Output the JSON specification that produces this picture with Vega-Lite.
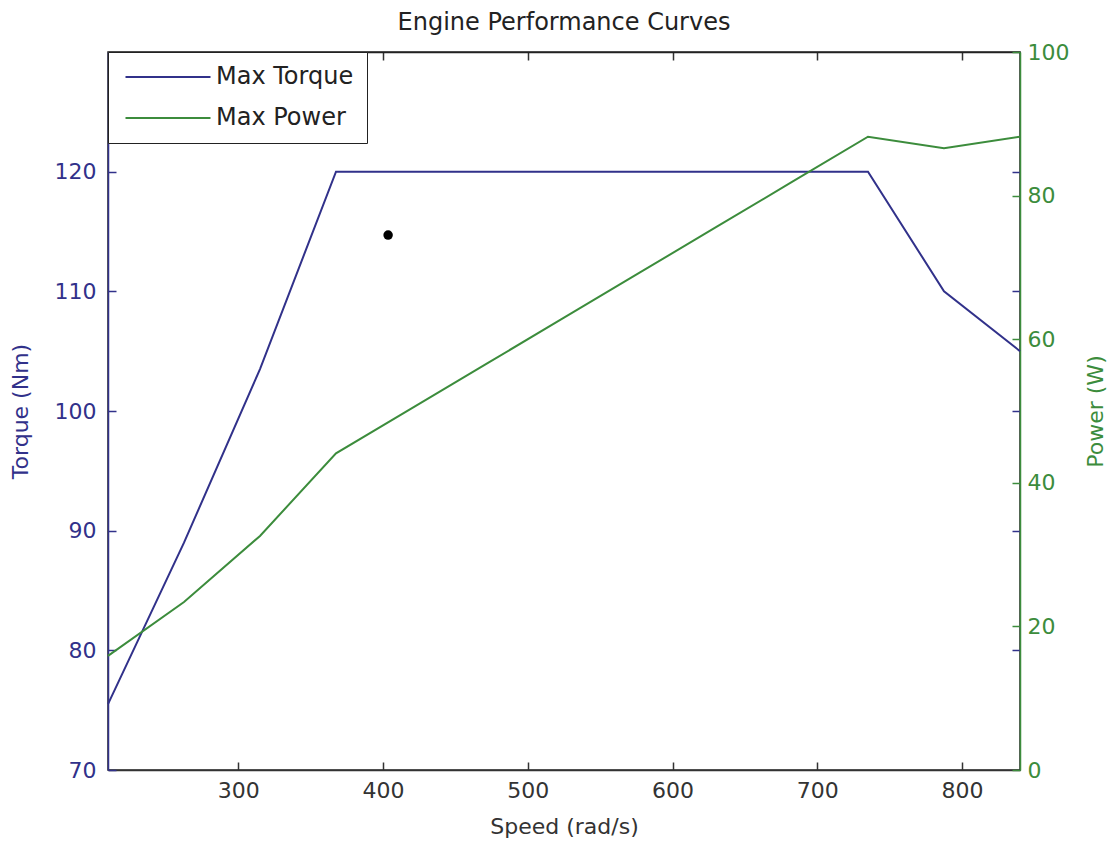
{
  "$schema": "https://vega.github.io/schema/vega-lite/v6.json",
  "width": 912,
  "height": 718,
  "autosize": {"type": "none"},
  "padding": {"left": 108, "top": 52, "right": 90, "bottom": 78},
  "background": "white",
  "title": {"text": "Engine Performance Curves", "fontSize": 24, "font": "DejaVu Sans", "fontWeight": "normal", "color": "#222222", "offset": 6, "anchor": "middle"},
  "config": {
    "font": "DejaVu Sans",
    "view": {"stroke": "#222222", "strokeWidth": 1.5},
    "axis": {"grid": false, "labelFont": "DejaVu Sans", "titleFont": "DejaVu Sans", "titleFontWeight": "normal", "labelFlush": false, "labelOverlap": false, "tickWidth": 1.5, "domainWidth": 1.5}
  },
  "datasets": {
    "curves": [
      {"speed": 210, "torque": 75.5, "power": 15.9},
      {"speed": 262.5, "torque": 89, "power": 23.4},
      {"speed": 315, "torque": 103.5, "power": 32.6},
      {"speed": 367.5, "torque": 120, "power": 44.1},
      {"speed": 420, "torque": 120, "power": 50.4},
      {"speed": 472.5, "torque": 120, "power": 56.7},
      {"speed": 525, "torque": 120, "power": 63.0},
      {"speed": 577.5, "torque": 120, "power": 69.3},
      {"speed": 630, "torque": 120, "power": 75.6},
      {"speed": 682.5, "torque": 120, "power": 81.9},
      {"speed": 735, "torque": 120, "power": 88.2},
      {"speed": 787.5, "torque": 110, "power": 86.6},
      {"speed": 840, "torque": 105, "power": 88.2}
    ],
    "marker": [
      {"speed": 403.5, "torque": 114.7}
    ]
  },
  "layer": [
    {
      "layer": [
        {
          "data": {"name": "curves"},
          "mark": {"type": "line", "strokeWidth": 2},
          "encoding": {
            "x": {"field": "speed", "type": "quantitative", "scale": {"domain": [210, 840], "nice": false, "zero": false},
              "axis": {"orient": "bottom", "values": [300, 400, 500, 600, 700, 800], "tickSize": -8, "tickColor": "#333333", "domainColor": "#333333", "labelColor": "#333333", "labelFontSize": 22, "labelPadding": 18, "title": "Speed (rad/s)", "titleFontSize": 22, "titleColor": "#333333", "titlePadding": 15}},
            "y": {"field": "torque", "type": "quantitative", "scale": {"domain": [70, 130], "nice": false, "zero": false},
              "axis": {"orient": "left", "values": [70, 80, 90, 100, 110, 120], "tickSize": -8, "tickColor": "#31318a", "domainColor": "#31318a", "labelColor": "#31318a", "labelFontSize": 22, "labelPadding": 20, "title": "Torque (Nm)", "titleFontSize": 22, "titleColor": "#31318a", "titlePadding": 22}},
            "color": {"datum": "Max Torque", "type": "nominal",
              "scale": {"domain": ["Max Torque", "Max Power"], "range": ["#31318a", "#3c8c3c"]},
              "legend": {"title": null, "orient": "top-left", "offset": 0, "symbolType": "M-4.25,0H4.25", "symbolSize": 400, "symbolStrokeWidth": 2, "labelFontSize": 24, "labelFont": "DejaVu Sans", "labelColor": "#222222", "padding": 13, "rowPadding": 17, "strokeColor": "#222222", "fillColor": "white", "symbolOffset": 35, "labelOffset": 36}}
          }
        },
        {
          "data": {"name": "marker"},
          "mark": {"type": "point", "filled": true, "color": "black", "size": 90, "opacity": 1},
          "encoding": {
            "x": {"field": "speed", "type": "quantitative", "scale": {"domain": [210, 840], "nice": false, "zero": false},
              "axis": {"orient": "bottom", "values": [300, 400, 500, 600, 700, 800], "tickSize": -8, "tickColor": "#333333", "domainColor": "#333333", "labelColor": "#333333", "labelFontSize": 22, "labelPadding": 18, "title": "Speed (rad/s)", "titleFontSize": 22, "titleColor": "#333333", "titlePadding": 15}},
            "y": {"field": "torque", "type": "quantitative",
              "axis": {"orient": "right", "values": [80, 90, 100, 110, 120], "tickSize": -8, "tickColor": "#31318a", "labels": false, "domain": false, "title": null}}
          }
        }
      ],
      "resolve": {"axis": {"y": "independent"}}
    },
    {
      "data": {"name": "curves"},
      "mark": {"type": "line", "strokeWidth": 2},
      "encoding": {
        "x": {"field": "speed", "type": "quantitative",
          "axis": {"orient": "top", "values": [300, 400, 500, 600, 700, 800], "tickSize": -8, "tickColor": "#333333", "domainColor": "#222222", "labels": false, "title": null}},
        "y": {"field": "power", "type": "quantitative", "scale": {"domain": [0, 100], "nice": false, "zero": false},
          "axis": {"orient": "right", "values": [0, 20, 40, 60, 80, 100], "tickSize": -8, "tickColor": "#3c8c3c", "domainColor": "#3c8c3c", "labelColor": "#3c8c3c", "labelFontSize": 22, "labelPadding": 15, "title": "Power (W)", "titleFontSize": 22, "titleColor": "#3c8c3c", "titleAngle": 270, "titlePadding": 39}},
        "color": {"datum": "Max Power", "type": "nominal"}
      }
    }
  ],
  "resolve": {"scale": {"y": "independent"}, "axis": {"x": "independent"}}
}
